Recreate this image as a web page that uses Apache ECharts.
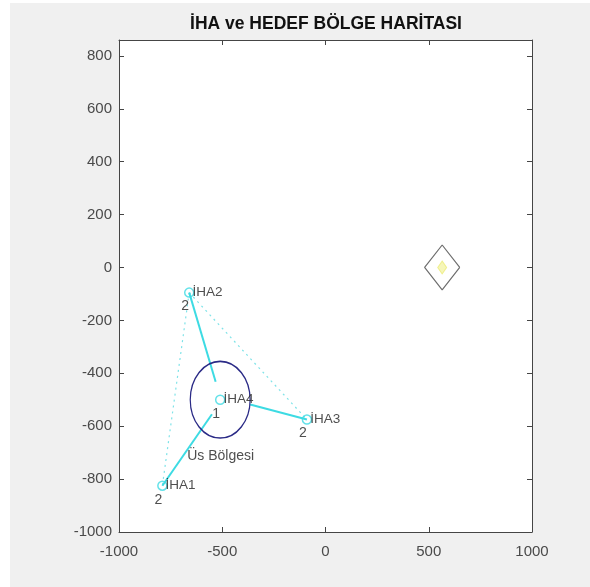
<!DOCTYPE html>
<html>
<head>
<meta charset="utf-8">
<script src="https://cdn.jsdelivr.net/npm/echarts@6/dist/echarts.min.js"></script>
<style>
html,body{margin:0;padding:0;background:#ffffff;width:590px;height:587px;overflow:hidden;}
#chart{position:absolute;left:10px;top:3px;width:580px;height:584px;}
</style>
</head>
<body>
<div id="chart"></div>
<script>
// ---- data ----
const titleText = 'İHA ve HEDEF BÖLGE HARİTASI';
const xTicks = [-1000, -500, 0, 500, 1000];
const yTicks = [-1000, -800, -600, -400, -200, 0, 200, 400, 600, 800];
const xRange = [-1000, 1000];
const yRange = [-1000, 860];

const ihaNames = ['İHA1', 'İHA2', 'İHA3', 'İHA4'];
const ihaX = [-790, -660, -90, -510];
const ihaY = [-825, -95, -575, -500];
const ihaState = ['2', '2', '2', '1'];

// solid movement segments (start -> reached point)
const moveFromX = [-790, -660, -90];
const moveFromY = [-825, -95, -575];
const moveToX = [-550, -532, -365];
const moveToY = [-555, -432, -518];

// dotted links between UAVs (index pairs into ihaNames)
const linkFrom = [1, 1];
const linkTo = [2, 0];

// base region circle
const baseCenterX = -510, baseCenterY = -500, baseRadius = 145;
const baseLabel = 'Üs Bölgesi';
const baseLabelX = -670, baseLabelY = -712;

// target region diamond
const targetX = [650, 565, 480, 565, 650];
const targetY = [0, 85, 0, -85, 0];
const targetCenterX = 565, targetCenterY = 0;

// ---- chart ----
const cyan = '#3ddbe3';
const font = 'Liberation Sans, Arial, sans-serif';

const chart = echarts.init(document.getElementById('chart'), null, {renderer: 'canvas'});

const axisCommon = {
  type: 'value',
  axisLine: {show: true, onZero: false, lineStyle: {color: '#454545', width: 1}},
  axisTick: {show: true, inside: true, length: 5, lineStyle: {color: '#454545'}},
  splitLine: {show: false}
};
const plainNum = v => String(v);

const option = {
  backgroundColor: '#f0f0f0',
  animation: false,
  title: {
    text: titleText,
    left: 311, top: 7, textAlign: 'center',
    textStyle: {fontFamily: font, fontSize: 17.5, fontWeight: 'bold', color: '#111'}
  },
  grid: {left: 109, right: 58, top: 37, bottom: 55, show: true, backgroundColor: '#ffffff', borderWidth: 0},
  xAxis: [
    Object.assign({}, axisCommon, {
      position: 'bottom', min: xRange[0], max: xRange[1], interval: 500,
      axisLabel: {show: true, color: '#4a4a4a', fontFamily: font, fontSize: 15, margin: 12,
        customValues: xTicks, formatter: plainNum}
    }),
    Object.assign({}, axisCommon, {
      position: 'top', min: xRange[0], max: xRange[1], interval: 500,
      axisLabel: {show: false}
    })
  ],
  yAxis: [
    Object.assign({}, axisCommon, {
      position: 'left', min: yRange[0], max: yRange[1], interval: 200,
      axisTick: {show: true, inside: true, length: 5, lineStyle: {color: '#454545'}, customValues: yTicks},
      axisLabel: {show: true, color: '#4a4a4a', fontFamily: font, fontSize: 15, margin: 7,
        customValues: yTicks, formatter: plainNum}
    }),
    Object.assign({}, axisCommon, {
      position: 'right', min: yRange[0], max: yRange[1], interval: 200,
      axisTick: {show: true, inside: true, length: 5, lineStyle: {color: '#454545'}, customValues: yTicks},
      axisLabel: {show: false}
    })
  ],
  series: [
    // dotted links
    {
      type: 'lines', coordinateSystem: 'cartesian2d', silent: true,
      lineStyle: {color: '#7fe3e8', width: 1.2, type: [2, 4], opacity: 1},
      data: linkFrom.map((a, i) => ({coords: [[ihaX[a], ihaY[a]], [ihaX[linkTo[i]], ihaY[linkTo[i]]]]}))
    },
    // solid movement segments
    {
      type: 'lines', coordinateSystem: 'cartesian2d', silent: true,
      lineStyle: {color: cyan, width: 2, opacity: 1},
      data: moveFromX.map((x, i) => ({coords: [[x, moveFromY[i]], [moveToX[i], moveToY[i]]]}))
    },
    // base circle
    {
      type: 'custom', silent: true,
      data: [[baseCenterX, baseCenterY, baseRadius]],
      renderItem: function (params, api) {
        const c = api.coord([api.value(0), api.value(1)]);
        const s = api.size([api.value(2), api.value(2)]);
        return {
          type: 'circle',
          x: c[0], y: c[1], scaleY: s[1] / s[0],
          shape: {cx: 0, cy: 0, r: s[0]},
          style: {fill: null, stroke: '#2a2a86', lineWidth: 1.2, strokeNoScale: true}
        };
      }
    },
    // target diamond
    {
      type: 'line', silent: true, symbol: 'none',
      lineStyle: {color: '#6e6e6e', width: 1.2},
      data: targetX.map((x, i) => [x, targetY[i]])
    },
    {
      type: 'scatter', silent: true, symbol: 'diamond', symbolSize: [9, 13],
      itemStyle: {color: '#f4f4a8', borderColor: '#ecec7a', borderWidth: 1},
      data: [[targetCenterX, targetCenterY]]
    },
    // UAV markers with names
    {
      type: 'scatter', silent: true, symbol: 'circle', symbolSize: 9,
      itemStyle: {color: 'rgba(255,255,255,0)', borderColor: cyan, borderWidth: 1.5},
      label: {
        show: true, position: 'right', distance: -2,
        formatter: p => p.name,
        fontFamily: font, fontSize: 13.5, color: '#222'
      },
      data: ihaNames.map((n, i) => ({name: n, value: [ihaX[i], ihaY[i]]}))
    },
    // state numbers
    {
      type: 'scatter', silent: true, symbolSize: 0,
      label: {
        show: true, position: 'inside', offset: [-4, 14],
        formatter: p => p.name,
        fontFamily: font, fontSize: 14, color: '#222'
      },
      data: ihaState.map((s, i) => ({name: s, value: [ihaX[i], ihaY[i]]}))
    },
    // base label
    {
      type: 'scatter', silent: true, symbolSize: 0,
      label: {
        show: true, position: 'inside', align: 'left', verticalAlign: 'middle',
        formatter: p => p.name,
        fontFamily: font, fontSize: 14, color: '#222'
      },
      data: [{name: baseLabel, value: [baseLabelX, baseLabelY]}]
    }
  ]
};
chart.setOption(option);
</script>
</body>
</html>
